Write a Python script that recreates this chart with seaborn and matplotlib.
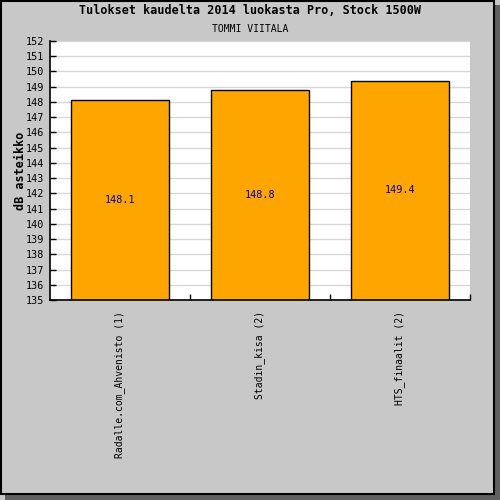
import matplotlib
matplotlib.use("Agg")
import matplotlib.pyplot as plt
from matplotlib.patches import Rectangle
import seaborn as sns
import pandas as pd

# data
events = ["Radalle.com_Ahvenisto (1)", "Stadin_kisa (2)", "HTS_finaalit (2)"]
scores = [148.1, 148.8, 149.4]
y_min, y_max = 135, 152

title = "Tulokset kaudelta 2014 luokasta Pro, Stock 1500W"
subtitle = "TOMMI VIITALA"
y_label = "dB asteikko"

sns.set_style("white")
plt.rcParams['font.family'] = ['DejaVu Sans Mono']
plt.rcParams['text.color'] = 'black'
plt.rcParams['axes.labelcolor'] = 'black'
plt.rcParams['xtick.color'] = 'black'
plt.rcParams['ytick.color'] = 'black'

df = pd.DataFrame({"event": events, "score": scores})

fig = plt.figure(figsize=(5, 5), dpi=100)
fig.patch.set_facecolor("#c8c8c8")

# drop shadow + framed panel
fig.add_artist(Rectangle((5 / 500, 0), 495 / 500, 495 / 500, transform=fig.transFigure,
                         facecolor="#606060", edgecolor="none", zorder=-10))
fig.add_artist(Rectangle((0.001, 6 / 500), 493 / 500, 494 / 500 - 0.001, transform=fig.transFigure,
                         facecolor="#c8c8c8", edgecolor="black", linewidth=1.5, zorder=-9))

ax = fig.add_axes([0.1, 0.4, 0.84, 0.918 - 0.4])
ax.set_facecolor("white")

sns.barplot(data=df, x="event", y="score", color="#ffa500", edgecolor="black",
            linewidth=1.0, width=0.7, saturation=1, ax=ax, zorder=3)

ax.set_ylim(y_min, y_max)
ax.set_xlim(-0.5, len(events) - 0.5)
ax.set_yticks(range(y_min, y_max + 1))
ax.yaxis.grid(True, color="#d8d8d8", linewidth=1.0, zorder=0)
ax.set_axisbelow(True)

for s in ["top", "right"]:
    ax.spines[s].set_visible(False)
for s in ["left", "bottom"]:
    ax.spines[s].set_color("black")
    ax.spines[s].set_linewidth(1.2)
    ax.spines[s].set_zorder(5)

ax.tick_params(axis="y", direction="in", length=4, width=1, colors="black",
               labelsize=7.3, pad=4, left=True)
ax.tick_params(axis="x", which="major", length=0, labelsize=7, pad=8, labelrotation=90,
               colors="black")
ax.set_xticks(range(len(events)))
ax.set_xticklabels(events, va="top")
ax.set_xticks([i + 0.5 for i in range(len(events))], minor=True)
ax.tick_params(axis="x", which="minor", direction="in", length=4, width=1, bottom=True)

for i, v in enumerate(scores):
    ax.text(i, (y_min + v) / 2, f"{v:.1f}", ha="center", va="center",
            fontsize=7.3, color="#0000a0", zorder=6)

ax.set_xlabel("")
ax.set_ylabel(y_label, fontsize=8.5, fontweight="bold", labelpad=-1, color="black")

fig.text(0.5, 1 - 11 / 500, title, ha="center", va="center", fontsize=8.5,
         fontweight="bold", color="black")
fig.text(0.5, 1 - 29 / 500, subtitle, ha="center", va="center", fontsize=7, color="black")

fig.savefig("out.png", dpi=100, facecolor=fig.get_facecolor())
